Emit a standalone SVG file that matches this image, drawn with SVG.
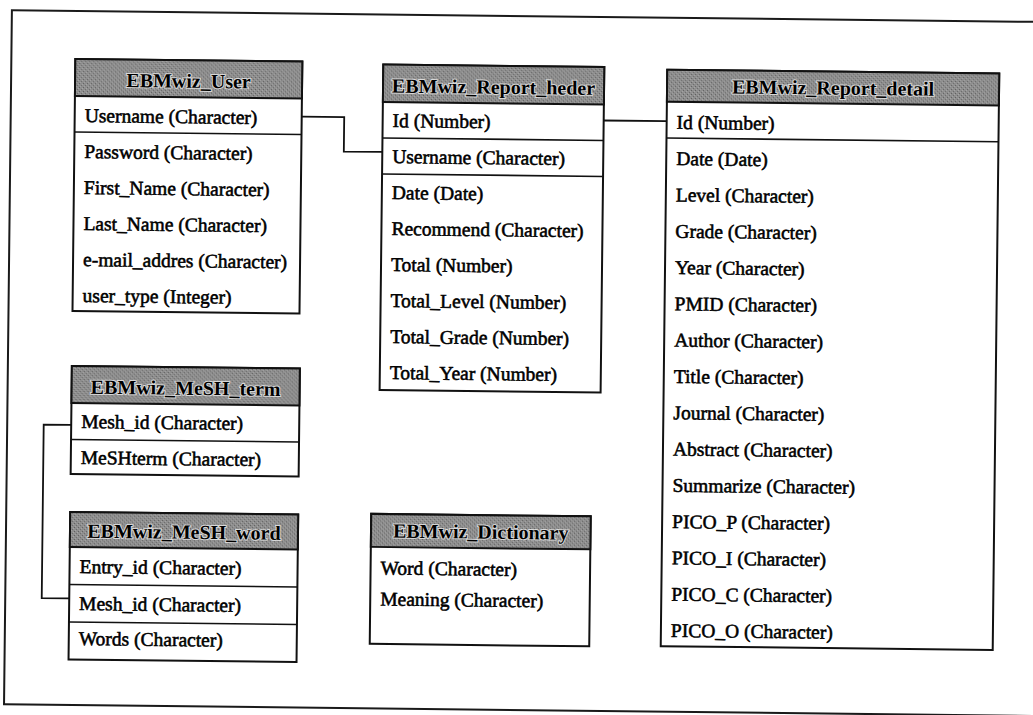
<svg xmlns="http://www.w3.org/2000/svg" width="1033" height="715" viewBox="0 0 1033 715">
<style>
.frame{fill:none;stroke:#1a1a1a;stroke-width:2}
.box{fill:#fff;stroke:#111;stroke-width:2}
.hdr{fill:url(#halftone);stroke:#111;stroke-width:2}
.sep{stroke:#111;stroke-width:1.6}
.ht{font-family:"Liberation Serif","Times New Roman",serif;font-size:20px;font-weight:bold;fill:#000;stroke:#d8d8d8;stroke-width:2;paint-order:stroke;text-anchor:middle}
.t{font-family:"Liberation Serif","Times New Roman",serif;font-size:19.5px;fill:#000;stroke:#000;stroke-width:0.55}
.conn{fill:none;stroke:#111;stroke-width:1.8}
</style>
<defs>
<pattern id="halftone" width="4" height="4" patternUnits="userSpaceOnUse">
<rect width="4" height="4" fill="#8e8e8e"/>
<rect x="0" y="0" width="1" height="1" fill="#5e5e5e"/>
<rect x="2" y="2" width="1" height="1" fill="#6a6a6a"/>
<rect x="3" y="1" width="1" height="1" fill="#a8a8a8"/>
<rect x="1" y="3" width="1" height="1" fill="#a4a4a4"/>
</pattern>
</defs>
<rect width="1033" height="715" fill="#fff"/>
<g transform="rotate(0.65 516 357)">
<rect class="frame" x="8" y="16" width="1034" height="694"/>

<g id="EBMwiz_User">
<rect class="box" x="72" y="64" width="227" height="252"/>
<rect class="hdr" x="72" y="64" width="227" height="37"/>
<line class="sep" x1="72" y1="137" x2="299" y2="137"/>
<text class="ht" x="185.5" y="91.5">EBMwiz_User</text>
<text class="t" x="82" y="127">Username (Character)</text>
<text class="t" x="82" y="163">Password (Character)</text>
<text class="t" x="82" y="199">First_Name (Character)</text>
<text class="t" x="82" y="235">Last_Name (Character)</text>
<text class="t" x="82" y="271">e-mail_addres (Character)</text>
<text class="t" x="82" y="307">user_type (Integer)</text>
</g>

<g id="EBMwiz_Report_heder">
<rect class="box" x="380" y="66" width="221" height="325.5"/>
<rect class="hdr" x="380" y="66" width="221" height="37.5"/>
<line class="sep" x1="380" y1="139.5" x2="601" y2="139.5"/>
<line class="sep" x1="380" y1="175.5" x2="601" y2="175.5"/>
<text class="ht" x="490.5" y="94">EBMwiz_Report_heder</text>
<text class="t" x="390" y="128.5">Id (Number)</text>
<text class="t" x="390" y="164.5">Username (Character)</text>
<text class="t" x="390" y="200.5">Date (Date)</text>
<text class="t" x="390" y="236.5">Recommend (Character)</text>
<text class="t" x="390" y="272.5">Total (Number)</text>
<text class="t" x="390" y="308.5">Total_Level (Number)</text>
<text class="t" x="390" y="344.5">Total_Grade (Number)</text>
<text class="t" x="390" y="380.5">Total_Year (Number)</text>
</g>

<g id="EBMwiz_Report_detail">
<rect class="box" x="664" y="68" width="332" height="576.5"/>
<rect class="hdr" x="664" y="68" width="332" height="32"/>
<line class="sep" x1="664" y1="136.3" x2="996" y2="136.3"/>
<text class="ht" x="830" y="91">EBMwiz_Report_detail</text>
<text class="t" x="674" y="127">Id (Number)</text>
<text class="t" x="674" y="163.3">Date (Date)</text>
<text class="t" x="674" y="199.6">Level (Character)</text>
<text class="t" x="674" y="235.9">Grade (Character)</text>
<text class="t" x="674" y="272.2">Year (Character)</text>
<text class="t" x="674" y="308.5">PMID (Character)</text>
<text class="t" x="674" y="344.8">Author (Character)</text>
<text class="t" x="674" y="381.1">Title (Character)</text>
<text class="t" x="674" y="417.4">Journal (Character)</text>
<text class="t" x="674" y="453.7">Abstract (Character)</text>
<text class="t" x="674" y="490">Summarize (Character)</text>
<text class="t" x="674" y="526.3">PICO_P (Character)</text>
<text class="t" x="674" y="562.6">PICO_I (Character)</text>
<text class="t" x="674" y="598.9">PICO_C (Character)</text>
<text class="t" x="674" y="635.2">PICO_O (Character)</text>
</g>

<g id="EBMwiz_MeSH_term">
<rect class="box" x="72" y="371" width="228" height="108"/>
<rect class="hdr" x="72" y="371" width="228" height="37"/>
<line class="sep" x1="72" y1="444.5" x2="300" y2="444.5"/>
<text class="ht" x="186" y="398.5">EBMwiz_MeSH_term</text>
<text class="t" x="82" y="433">Mesh_id (Character)</text>
<text class="t" x="82" y="469">MeSHterm (Character)</text>
</g>

<g id="EBMwiz_MeSH_word">
<rect class="box" x="72" y="517" width="228" height="147.5"/>
<rect class="hdr" x="72" y="517" width="228" height="35"/>
<line class="sep" x1="72" y1="589.5" x2="300" y2="589.5"/>
<line class="sep" x1="72" y1="627" x2="300" y2="627"/>
<text class="ht" x="186" y="542.5">EBMwiz_MeSH_word</text>
<text class="t" x="82" y="578">Entry_id (Character)</text>
<text class="t" x="82" y="615">Mesh_id (Character)</text>
<text class="t" x="82" y="650">Words (Character)</text>
</g>

<g id="EBMwiz_Dictionary">
<rect class="box" x="373" y="515.5" width="219.5" height="130"/>
<rect class="hdr" x="373" y="515.5" width="219.5" height="33"/>
<text class="ht" x="482.75" y="539">EBMwiz_Dictionary</text>
<text class="t" x="383" y="576">Word (Character)</text>
<text class="t" x="383" y="607">Meaning (Character)</text>
</g>

<g id="connectors">
<path class="conn" d="M299 119 H341.5 V153.5 H380"/>
<path class="conn" d="M601 119.5 H664"/>
<path class="conn" d="M72 430 H44.5 V603.5 H72"/>
</g>
</g>
</svg>
